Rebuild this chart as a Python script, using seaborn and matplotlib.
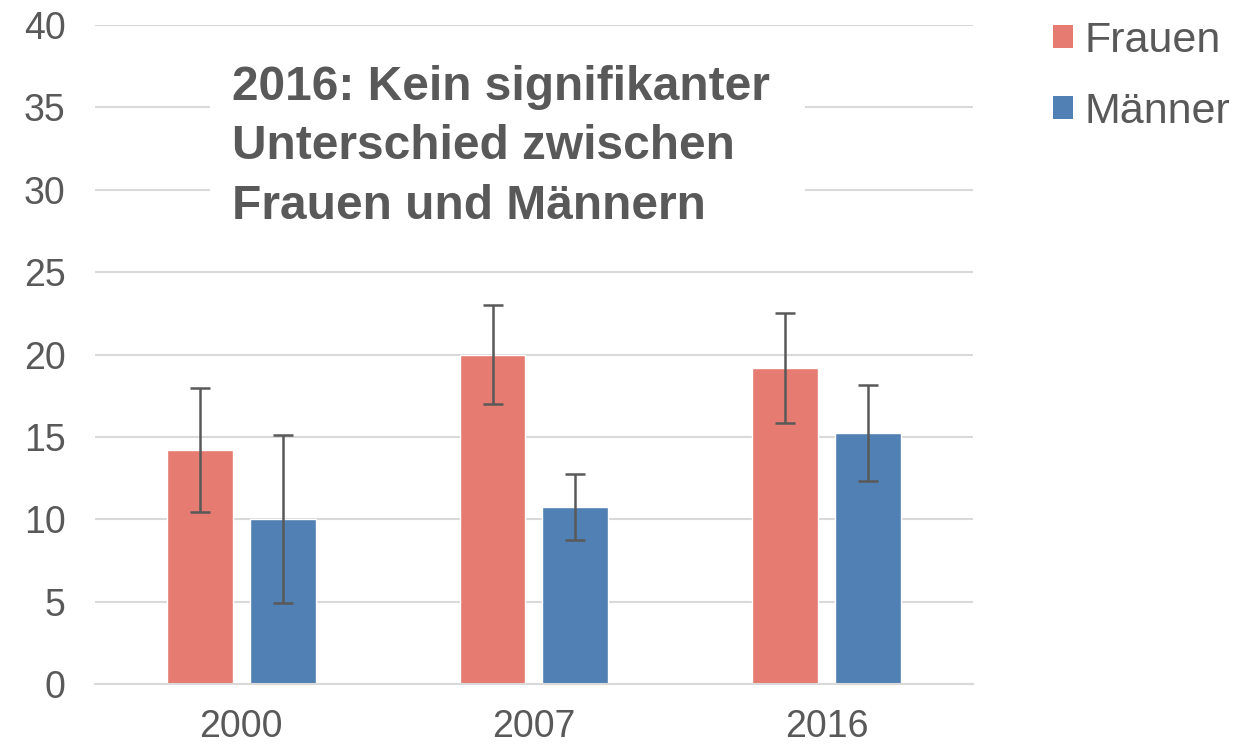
import matplotlib
matplotlib.use('Agg')
import matplotlib.pyplot as plt
import matplotlib.patches as mpatches
import pandas as pd
import seaborn as sns

years = ['2000', '2007', '2016']
groups = ['Frauen', 'Männer']
frauen = [14.2, 20.0, 19.2]
maenner = [10.0, 10.75, 15.25]
frauen_err = [3.75, 3.0, 3.35]
maenner_err = [5.1, 2.0, 2.9]

colors = {'Frauen': '#E57B71', 'Männer': '#5181B4'}
text_col = '#595959'
grid_col = '#D9D9D9'

df = pd.DataFrame({
    'year': years * 2,
    'group': ['Frauen'] * 3 + ['Männer'] * 3,
    'value': frauen + maenner,
    'err': frauen_err + maenner_err,
})

sns.set_style('white')
plt.rcParams['font.family'] = ['Liberation Sans', 'DejaVu Sans']

fig = plt.figure(figsize=(12.56, 7.45), dpi=100)
ax = fig.add_axes([0.0756, 0.0819, 0.6991, 0.8845])

sns.barplot(data=df, x='year', y='value', hue='group', order=years, hue_order=groups,
            palette=colors, saturation=1, width=0.566, gap=0.205, errorbar=None, ax=ax,
            legend=False, zorder=2)

# error bars at bar centres
for container, g in zip(ax.containers, groups):
    sub = df[df.group == g].set_index('year').loc[years]
    xs = [p.get_x() + p.get_width() / 2 for p in container.patches]
    ax.errorbar(xs, sub['value'], yerr=sub['err'], fmt='none', ecolor=text_col,
                elinewidth=1.8, capsize=7, capthick=1.8, zorder=3)

ax.set_ylim(0, 40)
ax.set_xlim(-0.5, 2.5)
ax.set_yticks(range(0, 41, 5))
ax.yaxis.grid(True, color=grid_col, linewidth=1.5)
ax.set_axisbelow(True)
for s in ['top', 'right', 'left']:
    ax.spines[s].set_visible(False)
ax.spines['bottom'].set_color(grid_col)
ax.spines['bottom'].set_linewidth(1.5)
ax.tick_params(axis='both', length=0, labelsize=27, labelcolor=text_col)
ax.tick_params(axis='y', pad=21)
ax.tick_params(axis='x', pad=18)
ax.set_xlabel('')
ax.set_ylabel('')

# white box behind annotation
ax.add_patch(mpatches.Rectangle((0.131, 0.681), 0.678, 0.273, transform=ax.transAxes,
                                facecolor='white', edgecolor='none', zorder=1.5))
ax.text(0.156, 0.94, '2016: Kein signifikanter\nUnterschied zwischen\nFrauen und Männern',
        transform=ax.transAxes, ha='left', va='top', fontsize=34.5, fontweight='bold',
        color=text_col, linespacing=1.42, zorder=4)

handles = [mpatches.Patch(facecolor=colors[g], edgecolor='none', label=g) for g in groups]
fig.legend(handles=handles, loc='upper left', bbox_to_anchor=(0.838, 0.972), frameon=False,
           fontsize=31, labelcolor=text_col, handlelength=0.47, handleheight=0.47,
           handletextpad=0.28, labelspacing=0.72, borderpad=0, borderaxespad=0)

fig.savefig('out.png', dpi=100)
